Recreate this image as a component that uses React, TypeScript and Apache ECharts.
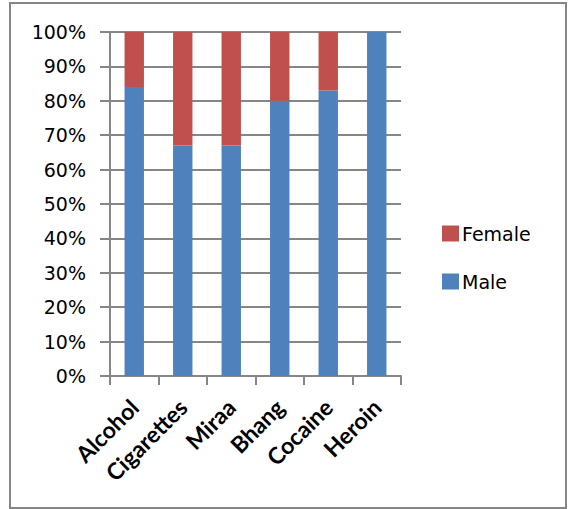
import React, { useEffect, useRef } from "react";
import * as echarts from "echarts";

const categories = ["Alcohol", "Cigarettes", "Miraa", "Bhang", "Cocaine", "Heroin"];
const maleValues = [84, 67, 67, 80, 83, 100];
const femaleValues = [16, 33, 33, 20, 17, 0];
const seriesNames = ["Male", "Female"];
const legendOrder = ["Female", "Male"];

export default function App() {
  const ref = useRef<HTMLDivElement>(null);
  useEffect(() => {
    if (!ref.current) return;
    const chart = echarts.init(ref.current, null, { renderer: "svg" });
    const gray = "#868686";
    chart.setOption({
      animation: false,
      backgroundColor: "#ffffff",
      graphic: [
        {
          type: "rect",
          shape: { x: 10, y: 3, width: 556, height: 505 },
          style: { fill: "none", stroke: gray, lineWidth: 2 },
          silent: true,
        },
      ],
      grid: { left: 110, right: 167, top: 32, bottom: 133, containLabel: false },
      legend: {
        data: legendOrder,
        orient: "vertical",
        left: 437,
        top: 219,
        itemWidth: 17,
        itemHeight: 16,
        itemGap: 29,
        icon: "rect",
        textStyle: { fontFamily: "DejaVu Sans", fontSize: 19, color: "#000", lineHeight: 18, padding: [0, 0, 0, -2] },
      },
      xAxis: {
        type: "category",
        data: categories,
        axisLine: { lineStyle: { color: gray, width: 2 } },
        axisTick: { show: true, length: 9, lineStyle: { color: gray, width: 2 } },
        axisLabel: {
          rotate: 45,
          margin: 27,
          interval: 0,
          color: "#000",
          fontFamily: "Lato",
          fontWeight: "bold",
          fontSize: 23,
        },
      },
      yAxis: {
        type: "value",
        min: 0,
        max: 100,
        interval: 10,
        axisLine: { show: true, lineStyle: { color: gray, width: 2 } },
        axisTick: { show: true, length: 10, lineStyle: { color: gray, width: 2 } },
        splitLine: { show: true, lineStyle: { color: gray, width: 2 } },
        axisLabel: {
          formatter: "{value}%",
          margin: 24,
          color: "#000",
          fontFamily: "DejaVu Sans",
          fontSize: 19,
        },
      },
      series: [
        {
          name: seriesNames[0],
          type: "bar",
          stack: "total",
          data: maleValues,
          barWidth: "40%",
          itemStyle: { color: "#4F81BD" },
        },
        {
          name: seriesNames[1],
          type: "bar",
          stack: "total",
          data: femaleValues,
          barWidth: "40%",
          itemStyle: { color: "#C0504D" },
        },
      ],
    });
    return () => chart.dispose();
  }, []);
  return (
    <div
      ref={ref}
      style={{ position: "absolute", left: 0, top: 0, width: 568, height: 509 }}
    />
  );
}
